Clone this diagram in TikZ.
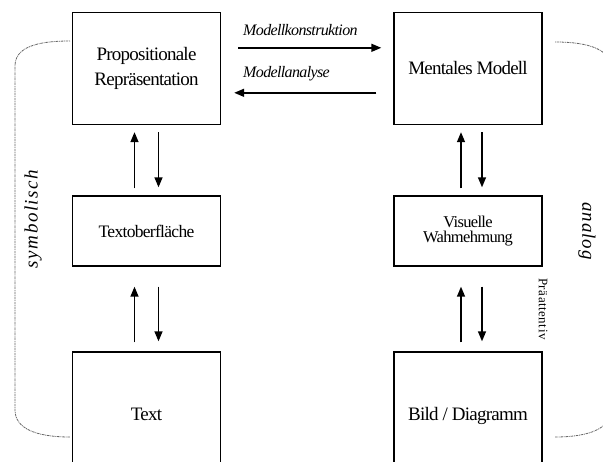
\documentclass[tikz,border=0pt]{standalone}
\usepackage{fontspec}
\setmainfont{Liberation Serif}
\usetikzlibrary{arrows.meta,calc}
\begin{document}
\begin{tikzpicture}[x=1pt,y=-1pt,
  box/.style={draw,line width=1.4pt,minimum width=148pt,inner sep=0pt,align=center},
  arr/.style={line width=1.5pt,-{Triangle[width=8pt,length=10pt]}},
  brk/.style={draw=black!60,line width=0.8pt,dash pattern=on 1pt off 0.8pt on 2.5pt off 0.8pt},
  lbl/.style={font=\fontsize{16}{18}\selectfont\itshape\addfontfeatures{LetterSpace=-4},inner sep=0pt,anchor=west}
]
\useasboundingbox (0,0) rectangle (603,462);
\clip (0,0) rectangle (603,462);
% boxes
\node[box,minimum height=112pt,font=\fontsize{19}{25}\selectfont\addfontfeatures{LetterSpace=-4}] (prop) at (146.5,68.5) {Propositionale\\Repräsentation};
\node[box,minimum height=112pt,font=\fontsize{19}{25}\selectfont\addfontfeatures{LetterSpace=-4}] (ment) at (468,68.5) {\raisebox{-4pt}{Mentales Modell}};
\node[box,minimum height=70pt,font=\fontsize{17.5}{22}\selectfont\addfontfeatures{LetterSpace=-4}] (tob) at (146.5,231) {Textoberfläche};
\node[box,minimum height=70pt,font=\fontsize{16.5}{22}\selectfont\addfontfeatures{LetterSpace=-4}] (vis) at (468,231) {\raisebox{-7pt}{\shortstack{Visuelle\\[1pt]Wahmehmung}}};
\node[box,minimum height=128pt,font=\fontsize{19}{22}\selectfont\addfontfeatures{LetterSpace=-4}] (txt) at (146.5,416) {\raisebox{4pt}{Text}};
\node[box,minimum height=128pt,font=\fontsize{19}{22}\selectfont\addfontfeatures{LetterSpace=-4}] (bild) at (468,416) {\raisebox{3pt}{Bild / Diagramm}};
% horizontal arrows
\draw[arr] ($(prop.north east)+(17,36)$) -- ($(ment.north west)+(-12,36)$);
\draw[arr] ($(ment.north west)+(-17,81)$) -- ($(prop.north east)+(13,81)$);
\node[lbl] (mk) at (243,30) {Modellkonstruktion};
\node[lbl] (ma) at (243,74) {Modellanalyse};
% vertical arrows left
\draw[arr] ($(tob.north)+(-12,-7)$) -- ($(prop.south)+(-12,7)$);
\draw[arr] ($(prop.south)+(12,7)$) -- ($(tob.north)+(12,-8)$);
\draw[arr] ($(txt.north)+(-12,-9)$) -- ($(tob.south)+(-12,20)$);
\draw[arr] ($(tob.south)+(12,20)$) -- ($(txt.north)+(12,-10)$);
% vertical arrows right
\draw[arr] ($(vis.north)+(-7,-7)$) -- ($(ment.south)+(-7,7)$);
\draw[arr] ($(ment.south)+(14,7)$) -- ($(vis.north)+(14,-8)$);
\draw[arr] ($(bild.north)+(-7,-9)$) -- ($(vis.south)+(-7,20)$);
\draw[arr] ($(vis.south)+(14,20)$) -- ($(bild.north)+(14,-10)$);
% brackets
\coordinate (l1) at (70,41);
\coordinate (l2) at (15,66);
\coordinate (l3) at (15,410);
\coordinate (l4) at (70,437);
\draw[brk] (l1) .. controls (35,41) and (15,48) .. (l2) -- (l3) .. controls (15,428) and (35,437) .. (l4);
\coordinate (r1) at (555,42);
\coordinate (r2) at (611,68);
\coordinate (r3) at (611,410);
\coordinate (r4) at (555,437);
\draw[brk] (r1) .. controls (590,42) and (611,50) .. (r2) -- (r3) .. controls (611,428) and (590,437) .. (r4);
% side labels
\node[rotate=90,inner sep=0pt,font=\fontsize{19}{20}\selectfont\itshape\addfontfeatures{LetterSpace=8}] (sym) at (33,219) {symbolisch};
\node[rotate=-90,inner sep=0pt,font=\fontsize{19}{20}\selectfont\itshape\addfontfeatures{LetterSpace=5}] (ana) at (587,231) {analog};
\node[rotate=-90,inner sep=0pt,font=\fontsize{13}{14}\selectfont\addfontfeatures{LetterSpace=4}] (prae) at (543,309) {Präattentiv};
\end{tikzpicture}
\end{document}
